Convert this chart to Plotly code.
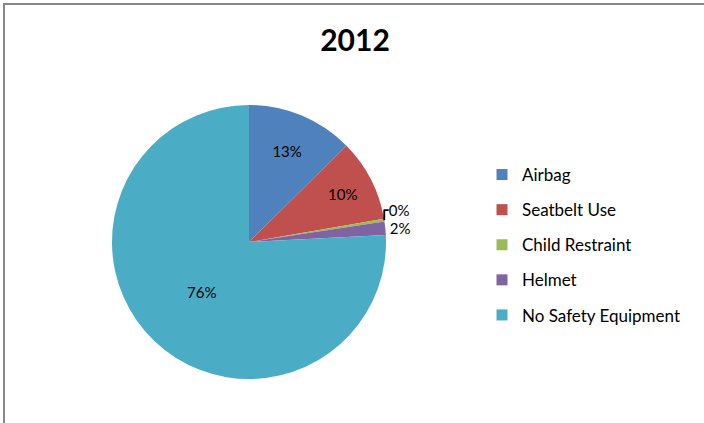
import plotly.graph_objects as go

# 2012 safety equipment use
labels = ["Airbag", "Seatbelt Use", "Child Restraint", "Helmet", "No Safety Equipment"]
values = [12.6, 9.7, 0.3, 1.6, 75.8]
colors = ["#4F81BD", "#C0504D", "#9BBB59", "#8064A2", "#4BACC6"]
title_text = "2012"

W, H = 704, 423

pie = go.Pie(
    labels=labels,
    values=values,
    sort=False,
    direction="clockwise",
    rotation=0,
    marker=dict(colors=colors, line=dict(width=0)),
    texttemplate="%{percent:.0%}",
    textposition=["inside", "inside", "outside", "outside", "inside"],
    insidetextorientation="horizontal",
    textfont=dict(family="Lato, Noto Sans", size=15, color="#000000"),
    outsidetextfont=dict(family="Lato, Noto Sans", size=15, color="#000000"),
    showlegend=False,
    domain=dict(x=[112 / W, 386 / W], y=[1 - 379 / H, 1 - 105 / H]),
)

# legend entries (one per slice, so the spacing can match)
legend_traces = []
for lab, col in zip(labels, colors):
    legend_traces.append(go.Scatter(
        x=[None], y=[None], mode="markers", name=lab, legendgroup=lab,
        marker=dict(symbol="square", size=11, color=col),
    ))

fig = go.Figure(data=[pie] + legend_traces)
fig.update_layout(
    width=W, height=H,
    margin=dict(l=0, r=0, t=0, b=0),
    paper_bgcolor="white", plot_bgcolor="white",
    title=dict(text="<b>" + title_text + "</b>", x=355 / W, y=1 - 40 / H,
               xanchor="center", yanchor="middle",
               font=dict(family="Lato, Noto Sans", size=30, color="#000000")),
    xaxis=dict(visible=False), yaxis=dict(visible=False),
    legend=dict(x=482 / W, y=1 - 157 / H, xanchor="left", yanchor="top",
                tracegroupgap=10, itemwidth=30,
                font=dict(family="Lato, Noto Sans", size=17, color="#000000")),
    shapes=[
        # chart frame (top and left edges)
        dict(type="line", xref="paper", yref="paper", x0=4 / W, x1=1, y0=1 - 4 / H, y1=1 - 4 / H,
             line=dict(color="#888888", width=2), layer="above"),
        dict(type="line", xref="paper", yref="paper", x0=4 / W, x1=4 / W, y0=0, y1=1 - 3 / H,
             line=dict(color="#888888", width=2), layer="above"),
    ],
)

fig.write_html("out.html", config={"displayModeBar": False},
               post_script="document.body.style.margin='0px';")
